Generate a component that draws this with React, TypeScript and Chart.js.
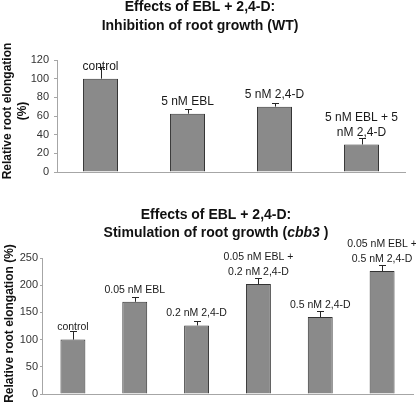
import React, { useEffect, useRef } from "react";
import { Chart, registerables } from "chart.js";

Chart.register(...registerables);

const FONT = "'Liberation Sans', Arial, sans-serif";

// ---- Top chart (WT) ----
const wtCategories: string[][] = [["control"], ["5 nM EBL"], ["5 nM 2,4-D"], ["5 nM EBL + 5", "nM 2,4-D"]];
const wtValues: number[] = [100, 62.5, 70, 29.5];
const wtErrors: number[] = [12.5, 5, 4, 6.5];
const wtTitle: { text: string; italic?: boolean }[][] = [
  [{ text: "Effects of EBL + 2,4-D:" }],
  [{ text: "Inhibition of root growth (WT)" }],
];
const wtAxisTitle: string[] = ["Relative root elongation", "(%)"];

// ---- Bottom chart (cbb3) ----
const cbbCategories: string[][] = [
  ["control"],
  ["0.05 nM EBL"],
  ["0.2 nM 2,4-D"],
  ["0.05 nM EBL +", "0.2 nM 2,4-D"],
  ["0.5 nM 2,4-D"],
  ["0.05 nM EBL +", "0.5 nM 2,4-D"],
];
const cbbValues: number[] = [100, 169.5, 126, 202, 141.5, 226];
const cbbErrors: number[] = [15, 8.5, 8, 11, 11, 11];
const cbbTitle: { text: string; italic?: boolean }[][] = [
  [{ text: "Effects of EBL + 2,4-D:" }],
  [{ text: "Stimulation of root growth (" }, { text: "cbb3", italic: true }, { text: " )" }],
];
const cbbAxisTitle: string[] = ["Relative root elongation (%)"];

type Spec = {
  categories: string[][];
  values: number[];
  errors: number[];
  title: { text: string; italic?: boolean }[][];
  titleX: number;
  titleY: number[];
  axisTitle: string[];
  axisTitleX: number[];
  axisTitleY: number;
  max: number;
  step: number;
  height: number;
  area: { top: number; bottom: number; left: number; right: number };
  labelSize: number;
  tickSize: number;
  tickLength: number;
  tickPadding: number;
};

function annotPlugin(s: Spec) {
  return {
    id: "annot",
    afterDatasetsDraw(chart: any) {
      const ctx: CanvasRenderingContext2D = chart.ctx;
      const meta = chart.getDatasetMeta(0);
      const ys = chart.scales.y;
      ctx.save();
      meta.data.forEach((el: any, i: number) => {
        const x = Math.round(el.x) + 0.5;
        const top = el.y;
        const et = Math.round(ys.getPixelForValue(s.values[i] + s.errors[i])) + 0.5;
        ctx.strokeStyle = "#262626";
        ctx.lineWidth = 1;
        ctx.beginPath();
        ctx.moveTo(x, top);
        ctx.lineTo(x, et);
        ctx.moveTo(x - 3.5, et);
        ctx.lineTo(x + 3.5, et);
        ctx.stroke();
        const lines = s.categories[i];
        ctx.font = `${s.labelSize}px ${FONT}`;
        ctx.fillStyle = "#1a1a1a";
        ctx.textAlign = "center";
        ctx.textBaseline = "middle";
        lines.forEach((ln, j) => {
          ctx.fillText(ln, el.x, top - 12 - (lines.length - 1 - j) * 15);
        });
      });
      // titles
      ctx.fillStyle = "#111";
      ctx.textBaseline = "alphabetic";
      ctx.textAlign = "left";
      s.title.forEach((segs, li) => {
        let total = 0;
        segs.forEach((sg) => {
          ctx.font = `${sg.italic ? "italic " : ""}bold 14px ${FONT}`;
          total += ctx.measureText(sg.text).width;
        });
        let x = s.titleX - total / 2;
        segs.forEach((sg) => {
          ctx.font = `${sg.italic ? "italic " : ""}bold 14px ${FONT}`;
          ctx.fillText(sg.text, x, s.titleY[li]);
          x += ctx.measureText(sg.text).width;
        });
      });
      // y axis title
      ctx.font = `bold 12px ${FONT}`;
      ctx.textAlign = "center";
      s.axisTitle.forEach((t, li) => {
        ctx.save();
        ctx.translate(s.axisTitleX[li], s.axisTitleY);
        ctx.rotate(-Math.PI / 2);
        ctx.fillText(t, 0, 0);
        ctx.restore();
      });
      ctx.restore();
    },
  };
}

function BarChart({ s }: { s: Spec }) {
  const ref = useRef<HTMLCanvasElement | null>(null);
  useEffect(() => {
    if (!ref.current) return;
    const axisColor = "#a6a6a6";
    const chart = new Chart(ref.current, {
      type: "bar",
      data: {
        labels: s.categories.map((c) => c.join(" ")),
        datasets: [
          {
            data: s.values,
            backgroundColor: "#8a8a8a",
            borderColor: "#333333",
            borderWidth: 1,
            barPercentage: 0.403,
            categoryPercentage: 1,
          },
        ],
      },
      options: {
        responsive: false,
        animation: false,
        events: [],
        layout: {
          padding: {
            top: s.area.top,
            bottom: s.height - s.area.bottom,
            left: 0,
            right: 416 - s.area.right,
          },
        },
        plugins: { legend: { display: false }, title: { display: false }, tooltip: { enabled: false } },
        scales: {
          x: {
            grid: { display: false },
            border: { display: true, color: axisColor, width: 1 },
            ticks: { display: false },
            afterFit: (sc: any) => {
              sc.height = 0;
            },
          },
          y: {
            min: 0,
            max: s.max,
            ticks: {
              stepSize: s.step,
              color: "#333",
              font: { family: FONT, size: s.tickSize },
              padding: s.tickPadding,
            },
            grid: {
              display: true,
              drawOnChartArea: false,
              drawTicks: true,
              tickLength: s.tickLength,
              color: axisColor,
            },
            border: { display: true, color: axisColor, width: 1 },
            afterFit: (sc: any) => {
              sc.width = s.area.left;
            },
          },
        },
      },
      plugins: [annotPlugin(s)],
    } as any);
    return () => chart.destroy();
  }, []);
  return <canvas ref={ref} width={416} height={s.height} style={{ display: "block" }} />;
}

const topSpec: Spec = {
  categories: wtCategories,
  values: wtValues,
  errors: wtErrors,
  title: wtTitle,
  titleX: 200,
  titleY: [11, 30],
  axisTitle: wtAxisTitle,
  axisTitleX: [10.5, 26],
  axisTitleY: 111,
  max: 120,
  step: 20,
  height: 200,
  area: { top: 60, bottom: 172, left: 57, right: 405 },
  labelSize: 12,
  tickSize: 11,
  tickLength: 3,
  tickPadding: 5,
};

const bottomSpec: Spec = {
  categories: cbbCategories,
  values: cbbValues,
  errors: cbbErrors,
  title: cbbTitle,
  titleX: 216,
  titleY: [19, 36.5],
  axisTitle: cbbAxisTitle,
  axisTitleX: [13],
  axisTitleY: 123.5,
  max: 250,
  step: 50,
  height: 207,
  area: { top: 58, bottom: 194, left: 42, right: 413 },
  labelSize: 10.5,
  tickSize: 11,
  tickLength: 2,
  tickPadding: 2,
};

export default function App() {
  return (
    <div style={{ position: "absolute", left: 0, top: 0, width: 416, height: 407, background: "#fff" }}>
      <BarChart s={topSpec} />
      <BarChart s={bottomSpec} />
    </div>
  );
}
